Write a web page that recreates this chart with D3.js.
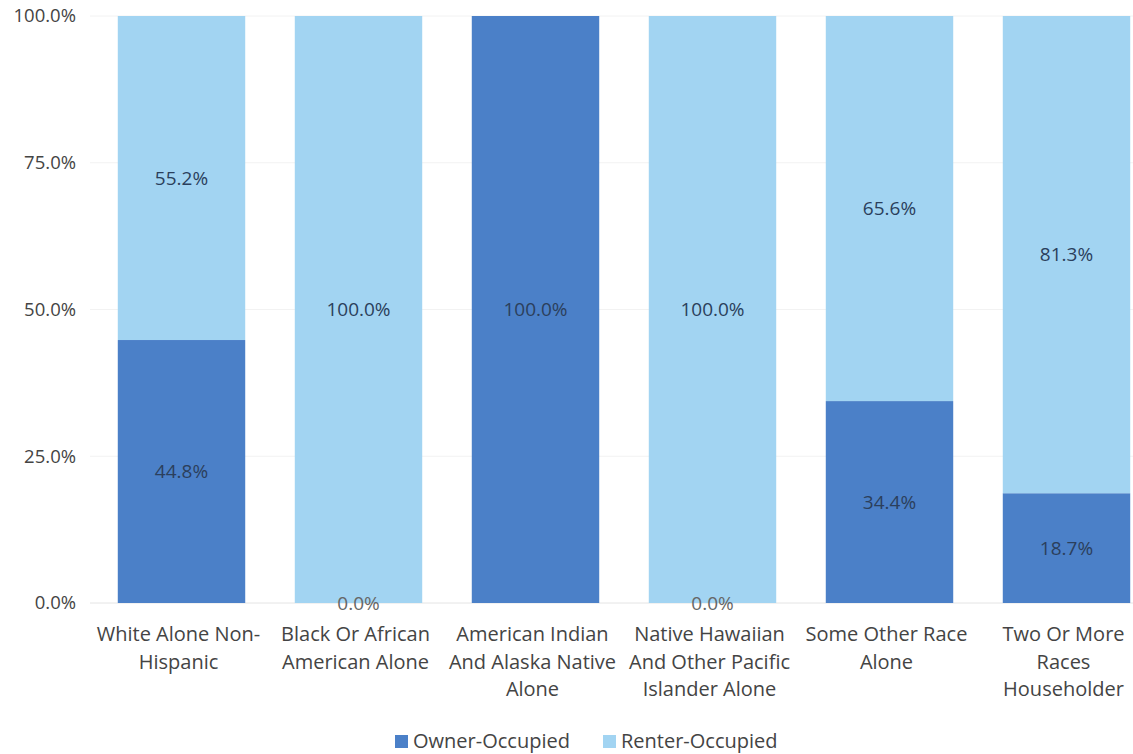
<!DOCTYPE html>
<html>
<head>
<meta charset="utf-8">
<script src="https://cdn.jsdelivr.net/npm/d3@7"></script>
<style>
  body { margin: 0; background: #fff; }
  svg { font-family: "Open Sans", "Noto Sans", sans-serif; }
</style>
</head>
<body>
<svg id="chart" width="1133" height="754"></svg>
<script>
// categories (line breaks as in the picture)
const categories = [
    'White Alone Non-\nHispanic',
    'Black Or African\nAmerican Alone',
    'American Indian\nAnd Alaska Native\nAlone',
    'Native Hawaiian\nAnd Other Pacific\nIslander Alone',
    'Some Other Race\nAlone',
    'Two Or More\nRaces\nHouseholder'
];
const seriesNames = ['Owner-Occupied', 'Renter-Occupied'];
const ownerValues = [44.8, 0.0, 100.0, 0.0, 34.4, 18.7];
const renterValues = [55.2, 100.0, 0.0, 100.0, 65.6, 81.3];
const yTicks = [0, 25, 50, 75, 100];

const colors = { 'Owner-Occupied': '#4b80c8', 'Renter-Occupied': '#a2d4f2' };

const svg = d3.select('#chart');

const rows = categories.map((c, i) => ({
    cat: c,
    'Owner-Occupied': ownerValues[i],
    'Renter-Occupied': renterValues[i]
}));

const x = d3.scaleBand()
    .domain(categories)
    .range([93, 1155])
    .paddingInner(0.28)
    .paddingOuter(0.14);

const y = d3.scaleLinear()
    .domain([0, 100])
    .range([603, 16]);

// faint gridlines
svg.append('g')
    .selectAll('line')
    .data(yTicks)
    .enter()
    .append('line')
    .attr('x1', 90)
    .attr('x2', 1133)
    .attr('y1', d => y(d))
    .attr('y2', d => y(d))
    .attr('stroke', d => d === 0 ? '#e4e4e4' : '#f2f2f2')
    .attr('stroke-width', 1);

// y axis labels
const yAxis = d3.axisLeft(y)
    .tickValues(yTicks)
    .tickFormat(d => d.toFixed(1) + '%')
    .tickSize(0)
    .tickPadding(0);

svg.append('g')
    .attr('transform', 'translate(76,0)')
    .call(yAxis)
    .call(g => g.select('.domain').remove())
    .selectAll('text')
    .attr('font-size', 18.5)
    .attr('fill', '#444')
    .attr('font-family', '"Open Sans", "Noto Sans", sans-serif');

const stack = d3.stack().keys(seriesNames);
const layers = stack(rows);

const layer = svg.selectAll('g.layer')
    .data(layers)
    .enter()
    .append('g')
    .attr('class', 'layer')
    .attr('fill', d => colors[d.key]);

layer.selectAll('rect')
    .data(d => d)
    .enter()
    .append('rect')
    .attr('x', d => x(d.data.cat))
    .attr('width', x.bandwidth())
    .attr('y', d => y(d[1]))
    .attr('height', d => y(d[0]) - y(d[1]));

// value labels in the middle of each segment
layers.forEach(l => {
    svg.append('g')
        .selectAll('text')
        .data(l.filter(d => (d[1] - d[0]) > 0 || l.key === 'Owner-Occupied'))
        .enter()
        .append('text')
        .attr('x', d => x(d.data.cat) + x.bandwidth() / 2)
        .attr('y', d => y((d[0] + d[1]) / 2))
        .attr('dy', '0.35em')
        .attr('text-anchor', 'middle')
        .attr('font-size', 19)
        .attr('fill', d => (d[1] - d[0]) === 0 ? '#666' : '#2b3f5c')
        .text(d => (d[1] - d[0]).toFixed(1) + '%');
});

// category labels
const xAxis = svg.append('g');
categories.forEach(c => {
    const lines = c.split('\n');
    const cx = x(c) + x.bandwidth() / 2 - 3;
    const t = xAxis.append('text')
        .attr('x', cx)
        .attr('y', 641)
        .attr('text-anchor', 'middle')
        .attr('font-size', 20)
        .attr('fill', '#444');
    lines.forEach((ln, i) => {
        t.append('tspan')
            .attr('x', cx)
            .attr('dy', i === 0 ? 0 : 27.5)
            .text(ln);
    });
});

// legend
const legend = svg.append('g');
const legendX = [395, 603];
seriesNames.forEach((s, i) => {
    legend.append('rect')
        .attr('x', legendX[i])
        .attr('y', 735)
        .attr('width', 13)
        .attr('height', 13)
        .attr('fill', colors[s]);
    legend.append('text')
        .attr('x', legendX[i] + 18)
        .attr('y', 748)
        .attr('font-size', 20)
        .attr('fill', '#444')
        .text(s);
});
</script>
</body>
</html>
